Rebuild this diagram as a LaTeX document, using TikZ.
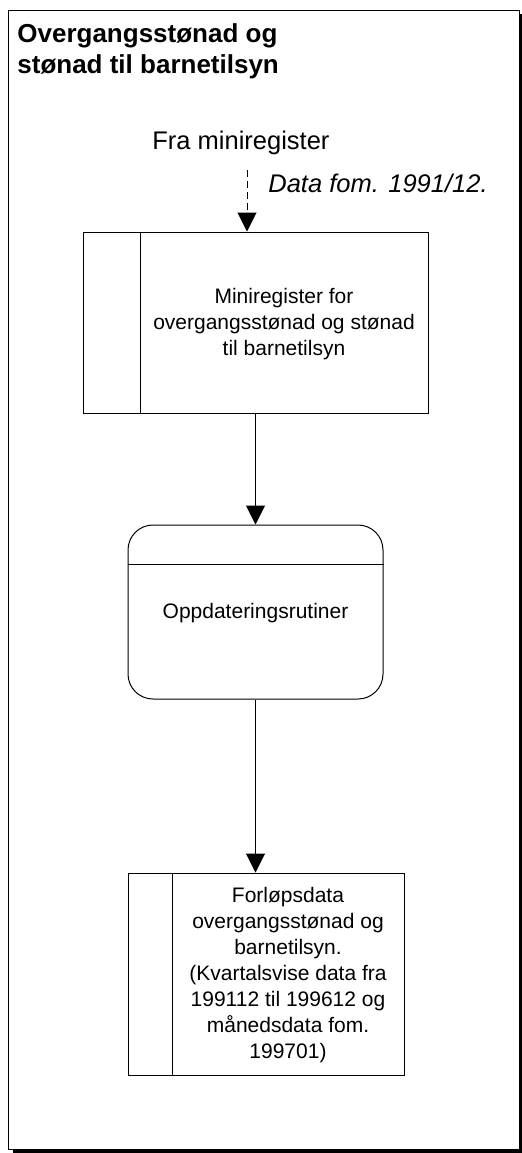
\documentclass[tikz,border=0pt]{standalone}
\usepackage{fontspec}
\setmainfont{Liberation Sans}
\usetikzlibrary{arrows.meta}
\begin{document}
\begin{tikzpicture}[x=0.5pt,y=-0.5pt,
    flow/.style={-{Triangle[width=9.5pt,length=9.5pt]},line width=0.5pt},
    boks/.style={draw,line width=0.5pt,inner sep=0pt},
    tekst/.style={align=center,font=\fontsize{10.5}{13}\selectfont}]
    \useasboundingbox (0,0) rectangle (522,1153);
    	% ramme med skygge
    	\fill[black] (13,14) rectangle (522,1153);
    	\draw[fill=white,line width=0.5pt] (8,10) rectangle (519,1149);
    	\node[anchor=north west,inner sep=0pt,align=left,font=\bfseries\fontsize{13}{15.5}\selectfont] (tittel) at (17,23) {Overgangsstønad og\\stønad til barnetilsyn};

    	\node[anchor=base west,inner sep=0pt,font=\fontsize{12.75}{15}\selectfont] (fra) at (152,149) {Fra miniregister};
    	\node[anchor=base west,inner sep=0pt,font=\itshape\fontsize{12.75}{15}\selectfont] (fom) at (268,192) {Data fom. 1991/12.};
    	\coordinate (inn) at (247,170);

    	\node[boks,minimum width=172.5pt,minimum height=90.5pt] (mreg) at (255.5,322.5) {};
    	\draw[line width=0.5pt] ([xshift=29pt]mreg.north west) -- ([xshift=29pt]mreg.south west);
    	\node[tekst] (mregtekst) at (284,324) {Miniregister for\\overgangsstønad og stønad\\til barnetilsyn};

    	\node[boks,rounded corners=12.5pt,minimum width=127.5pt,minimum height=87pt] (rutiner) at (255.5,612) {};
    	\draw[line width=0.5pt] ([yshift=-20pt]rutiner.north west) -- ([yshift=-20pt]rutiner.north east);
    	\node[tekst] (rutinertekst) at (255.5,613) {Oppdateringsrutiner};

    	\node[boks,minimum width=138pt,minimum height=101pt] (forlop) at (266,974) {};
    	\draw[line width=0.5pt] ([xshift=22.5pt]forlop.north west) -- ([xshift=22.5pt]forlop.south west);
    	\node[tekst] (forloptekst) at (288,975) {Forløpsdata\\overgangsstønad og\\barnetilsyn.\\(Kvartalsvise data fra\\199112 til 199612 og\\månedsdata fom.\\199701)};

    	\draw[flow,dash pattern=on 3.5pt off 2pt] (inn) -- (inn |- mreg.north);
    	\draw[flow] (mreg.south) -- (rutiner.north);
    	\draw[flow] (rutiner.south) -- (rutiner.south |- forlop.north);
    	\end{tikzpicture}
\end{document}
